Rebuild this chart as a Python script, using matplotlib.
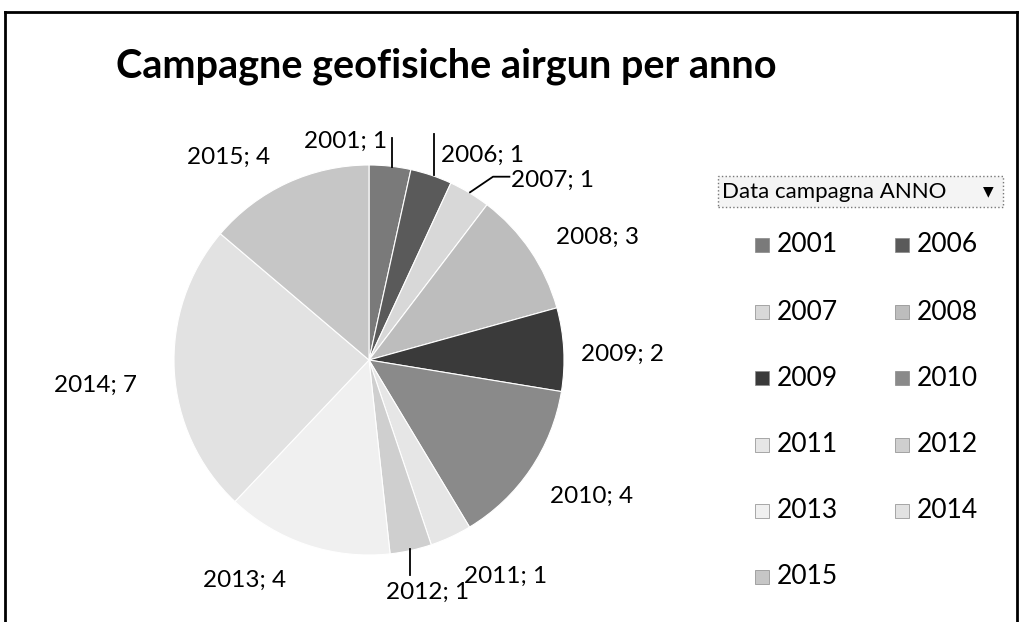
import matplotlib.pyplot as plt
from matplotlib.patches import Rectangle
from matplotlib.lines import Line2D

# data
anni = ["2001", "2006", "2007", "2008", "2009", "2010",
        "2011", "2012", "2013", "2014", "2015"]
campagne = [1, 1, 1, 3, 2, 4, 1, 1, 4, 7, 4]

# grey tones as they appear in the scan
grigi = ["#7a7a7a", "#5a5a5a", "#d8d8d8", "#bdbdbd", "#3a3a3a", "#8a8a8a",
         "#e6e6e6", "#cfcfcf", "#f0f0f0", "#e2e2e2", "#c6c6c6"]

# label positions (pie data coords), as Excel placed them
pos_etichette = [(-0.12, 1.12), (0.58, 1.05), (0.94, 0.92), (1.17, 0.63),
                 (1.30, 0.03), (1.14, -0.70), (0.70, -1.11), (0.30, -1.19),
                 (-0.64, -1.13), (-1.40, -0.13), (-0.72, 1.04)]

W, H = 1020, 622
fig = plt.figure(figsize=(W / 100, H / 100), dpi=100)
font = "Lato"

# outer frame of the chart area
fig.add_artist(Line2D([5 / W, 5 / W], [0, 1 - 12 / H], color="black", lw=2))
fig.add_artist(Line2D([5 / W, 1017 / W], [1 - 12 / H, 1 - 12 / H], color="black", lw=2))
fig.add_artist(Line2D([1017 / W, 1017 / W], [0, 1 - 12 / H], color="black", lw=2))

fig.text(446 / W, 1 - 66 / H, "Campagne geofisiche airgun per anno",
         ha="center", va="center", fontsize=28.5, fontweight="bold", family=font)

# pie axes: centre (369, 360) px, radius 195 px
cx, cy, r = 369, 360, 195
ax = fig.add_axes([(cx - r) / W, (H - cy - r) / H, 2 * r / W, 2 * r / H])
ax.pie(campagne, colors=grigi, startangle=90, counterclock=False, radius=1,
       wedgeprops=dict(edgecolor="white", linewidth=0.8))
ax.set_xlim(-1, 1)
ax.set_ylim(-1, 1)
ax.set_aspect("equal")
ax.axis("off")

for anno, n, (x, y) in zip(anni, campagne, pos_etichette):
    ax.text(x, y, f"{anno}; {n}", ha="center", va="center", fontsize=17.5,
            family=font, clip_on=False)

# leader lines
leader = dict(color="black", lw=1.3, clip_on=False)
ax.plot([0.118, 0.118], [1.14, 0.99], **leader)
ax.plot([0.335, 0.335], [1.16, 0.95], **leader)
ax.plot([0.72, 0.636, 0.518], [0.94, 0.94, 0.86], **leader)
ax.plot([0.21, 0.21], [-0.97, -1.10], **leader)

# legend header
fig.add_artist(Rectangle((718 / W, 1 - 207 / H), 285 / W, 31 / H,
                         facecolor="#f4f4f4", edgecolor="#777777", lw=1,
                         linestyle=":", transform=fig.transFigure))
fig.text(722 / W, 1 - 192 / H, "Data campagna ANNO", ha="left", va="center",
         fontsize=16, family=font)
fig.text(988 / W, 1 - 191 / H, "\u25bc", ha="center", va="center",
         fontsize=10, family="DejaVu Sans")

# legend entries, two columns
col_x = [762, 902]
row_y = [245, 312, 378, 445, 511, 577]
for i, (anno, c) in enumerate(zip(anni, grigi)):
    mx = col_x[i % 2]
    my = row_y[i // 2]
    fig.add_artist(Rectangle(((mx - 7) / W, 1 - (my + 7) / H), 14 / W, 14 / H,
                             facecolor=c, edgecolor="#888888", lw=0.5,
                             transform=fig.transFigure))
    fig.text((mx + 15) / W, 1 - my / H, anno, ha="left", va="center",
             fontsize=19, family=font)

fig.savefig("out.png", dpi=100, facecolor="white")
